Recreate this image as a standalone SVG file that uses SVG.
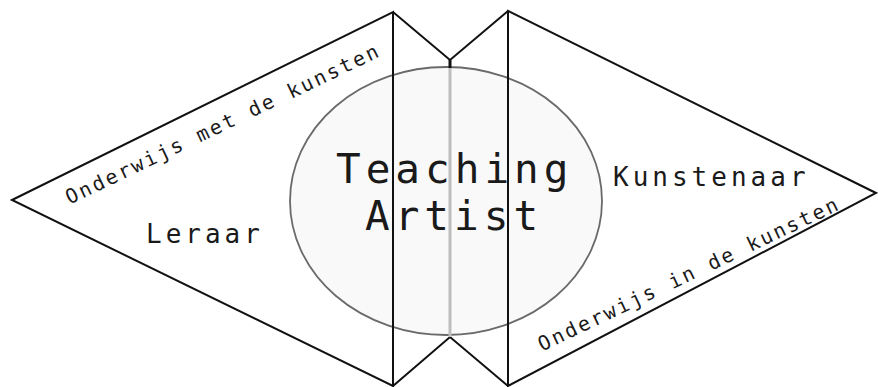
<svg xmlns="http://www.w3.org/2000/svg" width="878" height="387" viewBox="0 0 878 387">
<style>
.edge{fill:none;stroke:#111;stroke-width:2;stroke-linejoin:miter}
.t{font-family:"DejaVu Sans Mono","Liberation Mono",monospace;fill:#1a1a1a}
.big{font-size:41px;letter-spacing:5px}
.mid{font-size:26px;letter-spacing:4px}
.small{font-size:20px;letter-spacing:2.4px}
</style>
<rect width="878" height="387" fill="#fff"/>
<g id="circle">
<ellipse cx="446" cy="201" rx="156" ry="134" fill="#f9f9f9" stroke="#6a6a6a" stroke-width="1.8"/>
</g>
<g id="left-triangle">
<polygon class="edge" points="12,200 393,12 393,386"/>
<text class="t small" transform="translate(226,130) rotate(-25.5)" text-anchor="middle">Onderwijs met de kunsten</text>
<text class="t mid" x="146" y="243">Leraar</text>
</g>
<g id="right-triangle">
<polygon class="edge" points="508,11 876,193 508,386"/>
<text class="t mid" x="613" y="186">Kunstenaar</text>
<text class="t small" transform="translate(692,280) rotate(-25.5)" text-anchor="middle">Onderwijs in de kunsten</text>
</g>
<g id="connectors">
<polyline class="edge" points="393,12 450,60 508,11"/>
<polyline class="edge" points="393,386 450,337 508,386"/>
<line x1="450" y1="60" x2="450" y2="68" stroke="#111" stroke-width="3"/>
<line x1="450" y1="68" x2="450" y2="337" stroke="#bdbdbd" stroke-width="3"/>
</g>
<g id="teaching-artist">
<text class="t big" x="336" y="183">Teaching</text>
<text class="t big" x="365" y="230">Artist</text>
</g>
</svg>
